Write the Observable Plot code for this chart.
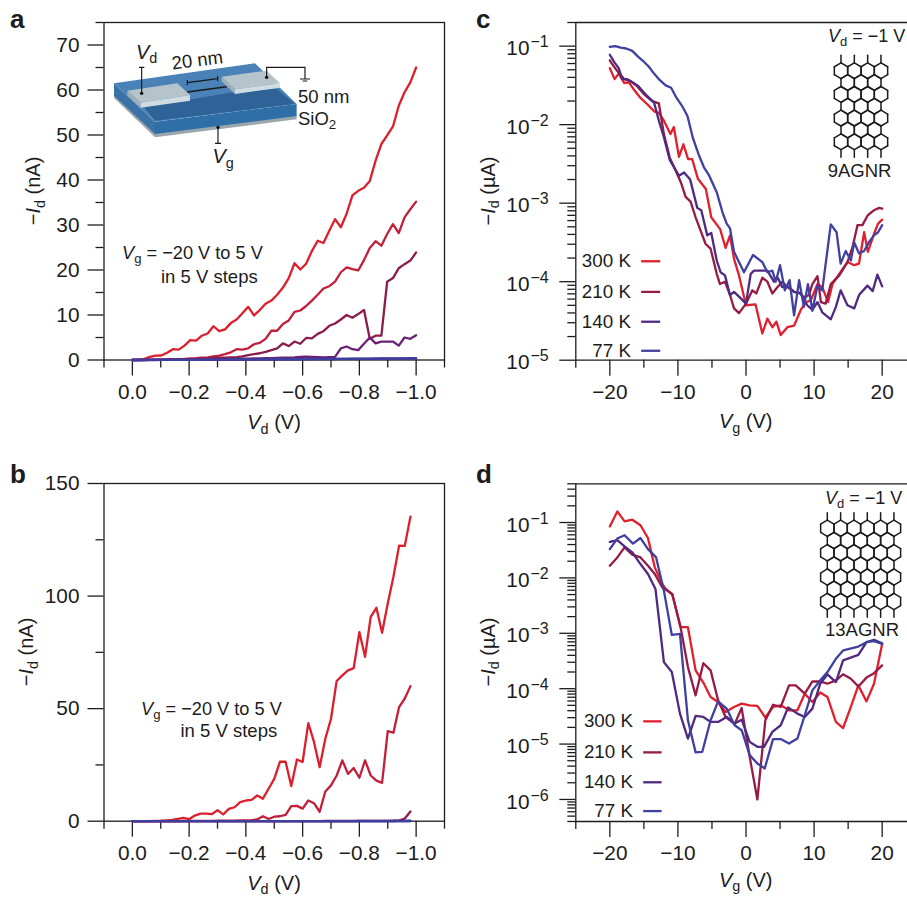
<!DOCTYPE html>
<html><head><meta charset="utf-8">
<script src="https://cdn.jsdelivr.net/npm/d3@7"></script>
<script src="https://cdn.jsdelivr.net/npm/@observablehq/plot@0.6"></script>
<style>
html,body{margin:0;padding:0;background:#fff;overflow:hidden}
#page{position:relative;width:907px;height:897px;overflow:hidden}
#page svg{position:absolute;overflow:visible;background:transparent}
</style></head><body><div id="page"></div>
<script>
// ---- panel a: -Id (nA) vs Vd, 50 samples per sweep
const a1=[0,.05,.2,.7,.95,1,1.6,2.4,2.3,3.2,4.4,4.3,5.4,5.9,7.5,6.4,6.8,8.2,9,10.4,11.8,9.9,11.1,12.5,13.2,14.5,16.1,18.2,21.5,20.1,21.4,24.2,26.5,26,28.7,31.3,29.5,32.5,36.6,37.6,38.3,39.8,44.3,48,49.9,51.9,56.5,59.5,61.7,65];
const a2=[0,.02,.05,.08,.1,.12,.15,.18,.2,.25,.35,.4,.5,.6,.8,.95,1.3,1.7,2.4,2.3,2.6,3.5,3.8,4.7,6.5,6.5,8,8.8,10.7,11,12,13.2,14.5,15.9,16.4,17.4,19.5,20.6,20.2,19.9,22.2,24.9,26.4,25.4,28,30.2,28.2,31.7,33.5,35.2];
const a3=[0,0,0,.02,.03,.05,.08,.1,.12,.15,.2,.22,.28,.35,.45,.5,.55,.6,.65,.8,1.1,1.3,1.5,1.8,2.2,2.6,3.7,3.1,4.1,3.6,4.9,4.8,5.8,6.4,7.6,8.1,9,10,9.4,10.2,11.1,4.7,5.4,5.4,17.4,18.2,20.4,21.3,22.1,23.9];
const a4=[0,0,0,0,0,.02,.03,.05,.05,.08,.1,.1,.12,.15,.18,.2,.2,.25,.25,.3,.3,.35,.35,.4,.4,.45,.5,.55,.6,.7,.75,.7,.65,.6,.65,.7,2.6,3,2.4,2.2,3.6,5,3.7,4.1,4.1,4.1,3.2,5,4.7,5.5];
const a5=[0,0,0,.01,.01,.02,.02,.03,.03,.04,.05,.05,.06,.07,.07,.08,.09,.09,.1,.11,.11,.12,.13,.13,.14,.15,.15,.16,.17,.18,.18,.19,.2,.21,.21,.22,.23,.24,.24,.25,.26,.27,.28,.28,.29,.3,.31,.32,.33,.35];
const a6=[0,0,.01,.01,.02,.02,.03,.03,.04,.05,.05,.06,.07,.08,.08,.09,.1,.11,.11,.12,.13,.14,.15,.15,.16,.17,.18,.19,.2,.2,.21,.22,.23,.24,.25,.25,.26,.27,.28,.29,.3,.31,.32,.33,.34,.35,.36,.38,.39,.41];
// ---- panel b
const b1=[0,.02,.03,.05,.1,.2,.4,.6,1,1.5,.9,2.5,3.4,3.4,3.1,4.9,3,5.5,6.2,8.5,9.2,9.5,11.4,10,14.4,18.8,26.4,26.4,15.6,27.4,26.3,43.6,35.2,24,36.6,45.5,62.3,64.8,67,68,84,73,90.8,94.8,83.7,96.7,108.6,122.4,122.3,135.3];
const b2=[0,0,0,.01,.02,.03,.04,.05,.06,.08,.1,.12,.14,.15,.17,.2,.22,.25,.3,.35,.4,.5,.8,2.2,1,2,2.2,2.8,6.7,6.8,5.6,9.2,8,4.2,13.2,15.9,20.3,27,21,23.6,19.3,27,20.3,18,17,40,39.3,50.7,54.5,60];
const b3=[0,0,0,0,0,0,0,0,0,0,.01,.01,.01,.01,.02,.02,.02,.02,.02,.03,.03,.03,.03,.04,.04,.04,.05,.05,.05,.06,.06,.06,.07,.07,.08,.08,.09,.09,.1,.1,.11,.12,.13,.14,.15,.17,.2,.3,1.2,4.3];
const b4=[0,0,0,0,0,0,0,0,0,0,0,0,.01,.01,.01,.01,.01,.02,.02,.02,.02,.02,.03,.03,.03,.03,.04,.04,.04,.04,.05,.05,.05,.05,.06,.06,.06,.07,.07,.07,.08,.08,.08,.09,.09,.1,.1,.11,.12,.13];
const b5=[0,0,0,0,0,0,0,0,0,0,0,0,0,0,0,.01,.01,.01,.01,.01,.01,.02,.02,.02,.02,.02,.02,.03,.03,.03,.03,.03,.04,.04,.04,.04,.05,.05,.05,.05,.06,.06,.06,.07,.07,.07,.08,.08,.09,.09];
const b6=[0,0,0,0,0,0,0,0,0,0,0,0,0,0,0,0,0,0,.01,.01,.01,.01,.01,.01,.01,.02,.02,.02,.02,.02,.02,.03,.03,.03,.03,.03,.04,.04,.04,.04,.05,.05,.05,.05,.06,.06,.06,.07,.07,.08];
const sweepColors=["#dc1f2d","#c21f3b","#8c1c4d","#6a2176","#4b2a8c","#3b3f9f"];
// ---- panel c: x in V, log10(-Id / uA)
const c300X=[-20,-19.3,-18.7,-17.9,-17.2,-16.5,-15.5,-14.5,-13.5,-12.8,-12.06,-11.1,-10.6,-9.85,-9.2,-8.5,-7.9,-7.06,-5.9,-5.1,-3.8,-3,-2.35,-1.76,-1.03,0,1.4,2.4,3.14,3.87,4.46,5.1,6.08,7.06,8.04,8.8,9.5,10.5,11.2,12.06,12.7,13.7,14.9,15.9,16.6,17.35,17.9,18.8,19.4,20];
const c300L=[-1.28,-1.42,-1.35,-1.47,-1.46,-1.55,-1.66,-1.74,-1.83,-1.85,-1.95,-2.12,-2.03,-2.41,-2.25,-2.44,-2.44,-2.69,-2.82,-3.18,-3.33,-3.57,-3.41,-3.71,-3.92,-4.3,-4.29,-4.66,-4.47,-4.58,-4.51,-4.68,-4.58,-4.56,-4.36,-4.26,-4.24,-4.03,-4.07,-4.26,-4.03,-3.9,-3.75,-3.79,-3.77,-3.37,-3.62,-3.39,-3.26,-3.21];
const c210X=[-20,-19.4,-18.7,-17.9,-17.06,-16,-15,-13.8,-12.8,-12.06,-11.2,-10.3,-9.5,-8.87,-8.14,-7.4,-6.67,-5.93,-5.2,-4.3,-3.82,-3.09,-2.35,-1.76,-1.03,0,.93,1.52,2.4,3.14,3.87,4.6,5.34,6.08,7.06,7.8,8.53,9.26,9.75,10.5,11,11.7,12.45,13.7,14.9,15.64,16.37,17.1,17.84,18.8,19.56,20];
const c210L=[-1.18,-1.26,-1.34,-1.42,-1.44,-1.51,-1.61,-1.7,-1.73,-2.12,-2.42,-2.59,-2.75,-2.92,-2.98,-3.18,-3.35,-3.52,-3.58,-3.9,-4.03,-4,-4.17,-4.34,-4.4,-4.28,-4.11,-4.15,-3.95,-4,-4.15,-4.07,-4,-4.07,-4.13,-4.14,-4.2,-4.17,-4.03,-3.93,-4.26,-4.28,-4.03,-3.92,-3.75,-3.56,-3.28,-3.28,-3.16,-3.09,-3.06,-3.07];
const c140X=[-20,-19.3,-18.7,-18.2,-17.5,-16.5,-15.8,-14.8,-13.5,-12.8,-12.06,-11.2,-9.85,-9.1,-8.2,-7.16,-6.57,-5.69,-5.1,-4.3,-3.73,-3.09,-2.35,-1.76,-1.03,0,.69,1.18,2.16,3.14,4.1,4.6,5.34,6.2,7.06,8,9,9.75,10.5,11.2,12.45,13.2,13.9,14.9,15.9,16.6,17.84,18.6,19.3,20];
const c140L=[-1.11,-1.21,-1.28,-1.42,-1.42,-1.47,-1.51,-1.61,-1.72,-1.95,-2.16,-2.45,-2.65,-2.61,-2.7,-3.06,-3.09,-3.41,-3.38,-3.73,-3.88,-3.92,-4.17,-4.13,-4.19,-4.28,-3.9,-3.86,-3.86,-3.86,-4,-3.94,-4.07,-4.06,-4.13,-4.15,-4.3,-4.36,-4.26,-4.39,-4.48,-4.32,-4.11,-4.3,-4.34,-4.17,-4.05,-4.12,-3.91,-4.06];
const c77X=[-20,-19.2,-18.4,-17.6,-16.7,-15.9,-15.1,-14.3,-13.5,-12.7,-11.8,-11,-10.2,-9.4,-8.6,-7.8,-7,-6.2,-5.4,-4.3,-3.48,-2.84,-2.35,-1.76,-1.03,-.3,1.03,2.4,3.14,3.87,4.36,5,5.7,6.4,7.06,7.8,8.5,9.1,9.75,10.5,11.2,12.45,13.3,13.9,14.65,15.4,15.9,16.6,17.35,18.1,18.8,19.4,20];
const c77L=[-1.01,-1,-1.02,-1.03,-1.06,-1.13,-1.19,-1.26,-1.35,-1.43,-1.5,-1.53,-1.66,-1.76,-1.89,-2.17,-2.37,-2.54,-2.65,-2.86,-3.11,-3.26,-3.32,-3.62,-3.75,-3.88,-3.66,-3.75,-3.88,-3.86,-4,-3.79,-4.11,-3.98,-4.43,-3.98,-4.32,-4.03,-4.37,-4.05,-4.11,-3.27,-3.37,-3.77,-3.61,-3.73,-3.5,-3.64,-3.61,-3.49,-3.41,-3.37,-3.28];
// ---- panel d
const d300X=[-20,-18.9,-17.84,-16.7,-15.5,-14.4,-13.4,-12.3,-11.8,-10.83,-9.6,-8.53,-7.4,-6.18,-5.2,-4.1,-3,-1.76,-.64,.54,1.67,2.84,3.97,5.1,6.32,7.55,8.63,9.75,10.9,11.96,13.2,14.26,15.4,16.5,17.7,18.8,20];
const d300L=[-1.07,-.8,-.98,-.95,-1.05,-1.28,-1.81,-2.11,-2.2,-2.3,-2.89,-2.89,-3.67,-3.91,-4.15,-4.24,-4.42,-4.33,-4.27,-4.3,-4.31,-4.52,-4.33,-4.3,-4.39,-4.39,-4.09,-4.24,-4.07,-4.15,-4.6,-4.71,-4.33,-3.94,-4.23,-3.91,-3.19];
const d210X=[-20,-18.9,-17.84,-16.7,-15.5,-14.4,-13.4,-12.3,-11.8,-10.83,-9.6,-8.53,-7.4,-6.27,-5.2,-4.1,-3,-1.67,-.64,.54,1.67,2.84,3.97,5.1,6.32,7.3,8.63,9.75,10.9,11.96,13.2,14.26,15.4,16.5,17.7,18.8,20];
const d210L=[-1.78,-1.63,-1.45,-1.58,-1.63,-1.78,-1.93,-2.17,-2.21,-2.29,-2.9,-3.61,-4.12,-3.54,-3.67,-4.21,-4.51,-4.64,-4.35,-5.23,-6,-4.57,-4.29,-4.33,-3.94,-3.94,-4.09,-3.87,-3.87,-3.91,-3.85,-3.74,-3.82,-3.96,-3.8,-3.72,-3.58];
const d140X=[-20,-18.9,-17.84,-16.7,-15.5,-14.4,-13.3,-12.06,-10.9,-9.7,-8.53,-7.4,-6.27,-5.2,-4.1,-2.84,-1.67,-.64,.54,1.67,2.65,3.87,5.1,6.18,7.55,8.63,9.75,10.9,11.96,13.2,14.26,16.5,17.7,18.8,20];
const d140L=[-1.35,-1.32,-1.43,-1.54,-1.75,-1.93,-2.2,-3.52,-3.7,-4.45,-4.9,-4.49,-4.51,-4.6,-4.6,-4.51,-4.63,-4.56,-4.96,-5.05,-5.05,-4.78,-4.66,-4.34,-4.45,-4.51,-4.36,-3.91,-3.74,-3.88,-3.49,-3.39,-3.16,-3.12,-3.18];
const d77X=[-20,-18.9,-17.84,-16.6,-15.5,-14.4,-13.2,-12.06,-10.9,-9.7,-8.53,-7.4,-6.42,-5.2,-4.1,-2.84,-1.67,-.64,.54,1.67,2.75,3.97,5.1,6.32,7.55,8.63,9.75,10.9,11.96,13.2,14.26,16.5,17.7,18.8,20];
const d77L=[-1.48,-1.29,-1.23,-1.38,-1.28,-1.48,-1.63,-2.23,-3.03,-3.01,-4.57,-5.15,-5.14,-4.57,-4.23,-4.36,-4.66,-4.75,-5.2,-5.35,-5.44,-4.91,-4.91,-4.99,-4.9,-4.48,-4.03,-3.85,-3.7,-3.46,-3.31,-3.24,-3.16,-3.14,-3.19];
const tempLabels=["300 K","210 K","140 K","77 K"];
const tempColors=["#e0202d","#961b45","#4f2a80","#3f40a0"];

const vdMajor=[0,-.2,-.4,-.6,-.8,-1], vdMinor=[.1,-.1,-.3,-.5,-.7,-.9,-1.1];
const vgMajor=[-20,-10,0,10,20], vgMinor=[-25,-15,-5,5,15];

const FONT="'Liberation Sans',Arial,Helvetica,sans-serif", INK="#1c1c1c";
const NS="http://www.w3.org/2000/svg";

function svgEl(tag,attrs){const e=document.createElementNS(NS,tag);for(const k in attrs)e.setAttribute(k,attrs[k]);return e;}
// text with italic / subscript runs; parts: "plain", {i:"V"}, {sub:"d"}
function rich(parts,{x,y,size=19,anchor="start",rotate=0,weight}){
  const t=svgEl("text",{"text-anchor":anchor,"font-size":size,fill:INK,transform:`translate(${x},${y}) rotate(${rotate})`});
  if(weight)t.setAttribute("font-weight",weight);
  let down=false;
  for(const p of parts){
    const s=svgEl("tspan",{});
    let dy=0;
    if(typeof p==="string"){s.textContent=p;if(down){dy=-size*.24;down=false;}}
    else if(p.i){s.textContent=p.i;s.setAttribute("font-style","italic");if(down){dy=-size*.24;down=false;}}
    else if(p.sub){s.textContent=p.sub;s.setAttribute("font-size",size*.72);dy=size*.24;down=true;}
    if(dy)s.setAttribute("dy",dy);
    t.appendChild(s);
  }
  return t;
}
function hexLattice(g,cx,cy,stepX,stepY,cols,rows){
  const w=stepX/2,s=stepY*2/3,h=s/2;
  const segs=[];
  const add=(x1,y1,x2,y2)=>segs.push([x1,y1,x2,y2]);
  for(let r=0;r<rows;r++){
    const n=r%2?cols-1:cols, off=r%2?w:0;
    for(let c=0;c<n;c++){
      const X=cx+off+c*stepX,Y=cy+r*stepY;
      const v=[[X,Y-s],[X+w,Y-h],[X+w,Y+h],[X,Y+s],[X-w,Y+h],[X-w,Y-h]];
      v.forEach((p,k)=>{const q=v[(k+1)%6];add(p[0],p[1],q[0],q[1]);});
      if(r===0)add(X,Y-s,X,Y-s-7.5);
      if(r===rows-1)add(X,Y+s,X,Y+s+7.5);
    }
  }
  for(const [a,b,c,d] of segs)g.appendChild(svgEl("line",{x1:a,y1:b,x2:c,y2:d,stroke:"#1c1c1c","stroke-width":1.5,"stroke-linecap":"round"}));
}
function device(g){
  const tr=svgEl("g",{transform:"translate(100,30) scale(0.3333)"});g.appendChild(tr);
  const poly=(pts,fill)=>tr.appendChild(svgEl("polygon",{points:pts,fill}));
  const path=(d,w=4.5)=>tr.appendChild(svgEl("path",{d,fill:"none",stroke:"#1a1a1a","stroke-width":w}));
  poly("42,190 165,308 590,256 590,268 165,322 42,204","#9aa7ad");
  poly("42,160 165,275 165,312 42,197","#3a72a6");
  poly("165,275 590,222 590,258 165,312","#2f6fa8");
  poly("42,160 465,100 590,222 165,275","#4a82b8");
  poly("130,228 262,210 380,190 530,176 585,222 165,272","#2f6296");
  poly("82,182 232,160 270,195 122,218","#b4c4ca");
  poly("82,182 122,218 122,233 82,197","#9fb1b8");
  poly("122,218 270,195 270,212 122,233","#cfdde2");
  poly("365,140 500,122 540,160 405,178","#b4c4ca");
  poly("365,140 405,178 405,192 365,154","#9fb1b8");
  poly("405,178 540,160 540,173 405,192","#cfdde2");
  path("M262,186L380,170");
  path("M262,158L353,146M262,150V166M353,138V154",3.5);
  path("M125,190V112M117,112H133",3.5);
  path("M500,142V112H615V147M600,147H630M608,153H622",3.5);
  path("M354,292V340M345,340H363",3.5);
  for(const [cx,cy] of [[125,190],[500,142],[354,292]])tr.appendChild(svgEl("circle",{cx,cy,r:5,fill:"#111"}));
}

const V={i:"V"},I={i:"I"};
const panels={
 a:{left:0,top:0,w:454,h:450,m:[22,10,90.5,103.5],
    overlay(g){
      device(g);
      g.append(rich(["a"],{x:10,y:28,size:26,weight:"bold"}));
      g.append(rich([V,{sub:"d"}],{x:136,y:58.5,size:20}));
      g.append(rich(["20 nm"],{x:172.5,y:69.5,size:18.5,rotate:-7}));
      g.append(rich([V,{sub:"g"}],{x:212.5,y:163,size:20}));
      g.append(rich(["50 nm"],{x:298,y:103,size:18.5}));
      g.append(rich(["SiO",{sub:"2"}],{x:298,y:125,size:18.5}));
      g.append(rich([V,{sub:"g"}," = \u221220 V to 5 V"],{x:122,y:259,size:18.2}));
      g.append(rich(["in 5 V steps"],{x:161,y:282.5,size:18.5}));
      g.append(rich([V,{sub:"d"}," (V)"],{x:274,y:429,size:20,anchor:"middle"}));
      g.append(rich(["\u2212",I,{sub:"d"}," (nA)"],{x:40,y:191,size:20,anchor:"middle",rotate:-90}));
    }},
 b:{left:0,top:460,w:454,h:437,m:[23,10,76.3,103.5],
    overlay(g){
      g.append(rich(["b"],{x:10,y:482.5,size:26,weight:"bold"}));
      g.append(rich([V,{sub:"g"}," = \u221220 V to 5 V"],{x:141,y:715,size:18.2}));
      g.append(rich(["in 5 V steps"],{x:180.5,y:737,size:18.5}));
      g.append(rich([V,{sub:"d"}," (V)"],{x:274,y:889.5,size:20,anchor:"middle"}));
      g.append(rich(["\u2212",I,{sub:"d"}," (nA)"],{x:33,y:652,size:20,anchor:"middle",rotate:-90}));
    }},
 c:{left:460,top:0,w:447,h:450,m:[22,0,90.3,115.3],
    overlay(g){
      hexLattice(g,841,70.7,13.33,11.85,4,7);
      g.append(rich(["c"],{x:476,y:28,size:26,weight:"bold"}));
      g.append(rich([V,{sub:"d"}," = \u22121 V"],{x:828,y:41.5,size:18}));
      g.append(rich(["9AGNR"],{x:859.5,y:176.5,size:18.5,anchor:"middle"}));
      g.append(rich([V,{sub:"g"}," (V)"],{x:745.7,y:428,size:20,anchor:"middle"}));
      g.append(rich(["\u2212",I,{sub:"d"}," (\u00b5A)"],{x:494.5,y:191,size:20,anchor:"middle",rotate:-90}));
    }},
 d:{left:460,top:460,w:447,h:437,m:[23.3,0,76,115.3],
    overlay(g){
      hexLattice(g,827.3,528.3,13.33,12.2,6,7);
      g.append(rich(["d"],{x:476,y:483,size:26,weight:"bold"}));
      g.append(rich([V,{sub:"d"}," = \u22121 V"],{x:825,y:504,size:18}));
      g.append(rich(["13AGNR"],{x:862,y:635.5,size:18.5,anchor:"middle"}));
      g.append(rich([V,{sub:"g"}," (V)"],{x:745.7,y:886.5,size:20,anchor:"middle"}));
      g.append(rich(["\u2212",I,{sub:"d"}," (\u00b5A)"],{x:494.5,y:652,size:20,anchor:"middle",rotate:-90}));
    }}
};

const overlayMark=p=>()=>{
  const g=svgEl("g",{transform:`translate(${-p.left},${-p.top})`});
  p.overlay(g);
  return g;
};
const LW=2.3;
const series=(xs,ys,stroke)=>Plot.line(ys.map((y,i)=>({x:xs[i],y})),{x:"x",y:"y",stroke,strokeWidth:LW,strokeLinejoin:"round"});
const logs=l=>l.map(v=>Math.pow(10,v));

function draw(p,{xDomain,yDomain,yType,xMajor,xMinor,xFormat,yMajorAxis,yMinor,lines,extra=[]}){
  const [mt,mr,mb,ml]=p.m;
  const svg=Plot.plot({
    width:p.w,height:p.h,marginTop:mt,marginRight:mr,marginBottom:mb,marginLeft:ml,
    style:{fontFamily:FONT,color:INK,background:"transparent",overflow:"visible"},
    x:{domain:xDomain,axis:null},y:{type:yType,domain:yDomain,axis:null},
    marks:[
      Plot.axisX({ticks:xMinor,tickSize:8,fill:"none",label:null,strokeWidth:1.3}),
      Plot.axisX({ticks:xMajor,tickSize:16,tickPadding:8,tickFormat:xFormat,fontSize:20.8,label:null,strokeWidth:1.3}),
      Plot.axisY({ticks:yMinor,tickSize:8,fill:"none",label:null,strokeWidth:1.3}),
      ...yMajorAxis,
      ...extra,
      ...lines,
      overlayMark(p)
    ]
  });
  svg.style.left=p.left+"px";svg.style.top=p.top+"px";
  document.getElementById("page").append(svg);
}
const xs50a=d3.range(50).map(i=>-i/49), xs50b=d3.range(50).map(i=>-i*.02);
const frameBox=()=>Plot.frame({stroke:INK,strokeWidth:1.3});
const linAxis=t=>[Plot.axisY({ticks:t,tickSize:16,tickPadding:8.5,tickFormat:d=>String(d),fontSize:20.8,label:null,strokeWidth:1.3})];

draw(panels.a,{xDomain:[.1,-1.1],yDomain:[0,75],yType:"linear",xMajor:vdMajor,xMinor:vdMinor,xFormat:d3.format(".1f"),
  yMajorAxis:linAxis([0,10,20,30,40,50,60,70]),yMinor:[5,15,25,35,45,55,65,75],
  lines:[a1,a2,a3,a4,a5,a6].map((s,i)=>series(xs50a,s,sweepColors[i])),extra:[frameBox()]});
draw(panels.b,{xDomain:[.1,-1.1],yDomain:[0,150],yType:"linear",xMajor:vdMajor,xMinor:vdMinor,xFormat:d3.format(".1f"),
  yMajorAxis:linAxis([0,50,100,150]),yMinor:[25,75,125],
  lines:[b1,b2,b3,b4,b5,b6].map((s,i)=>series(xs50b,s,sweepColors[i])),extra:[frameBox()]});

function logPanel(p,{yDomain,decades,lines,legendY,legendX}){
  const minor=[];
  for(const e of d3.range(decades[0]-1,decades[decades.length-1]+1))for(let m=2;m<=9;m++){const v=m*Math.pow(10,e);if(v>=yDomain[0]&&v<=yDomain[1]*1.001)minor.push(v);}
  const xEdge=[-25,23.72];
  const axis=[
    Plot.axisY({ticks:decades.map(e=>Math.pow(10,e)),tickSize:16,fill:"none",label:null,strokeWidth:1.3}),
    Plot.text(decades,{y:e=>Math.pow(10,e),text:()=>"10",frameAnchor:"left",dx:-46.3,dy:2.5,textAnchor:"end",fontSize:20.8,fill:INK}),
    Plot.text(decades,{y:e=>Math.pow(10,e),text:e=>"\u2212"+(-e),frameAnchor:"left",dx:-45.3,dy:-4,textAnchor:"start",fontSize:16,fill:INK})
  ];
  const rows=tempLabels.map((t,i)=>({t,c:tempColors[i],y:Math.pow(10,legendY[i])}));
  draw(p,{xDomain:xEdge,yDomain,yType:"log",xMajor:vgMajor,xMinor:vgMinor,xFormat:d3.format("d"),yMajorAxis:axis,yMinor:minor,lines,
    extra:[
      Plot.ruleX([-25],{stroke:INK,strokeWidth:1.3}),
      Plot.ruleY(yDomain,{stroke:INK,strokeWidth:1.3}),
      Plot.text(rows,{x:()=>legendX[0],y:"y",text:"t",textAnchor:"end",fontSize:18.8,fill:INK}),
      Plot.link(rows,{x1:()=>legendX[1],x2:()=>legendX[2],y1:"y",y2:"y",stroke:"c",strokeWidth:LW})
    ]});
}
logPanel(panels.c,{yDomain:[1e-5,.2],decades:[-5,-4,-3,-2,-1],legendY:[-3.74,-4.13,-4.51,-4.88],legendX:[-16.9,-15.4,-12.6],
  lines:[[c300X,c300L],[c210X,c210L],[c140X,c140L],[c77X,c77L]].map(([x,l],i)=>series(x,logs(l),tempColors[i]))});
logPanel(panels.d,{yDomain:[4e-7,.5],decades:[-6,-5,-4,-3,-2,-1],legendY:[-4.59,-5.15,-5.69,-6.21],legendX:[-16.6,-15.1,-12.4],
  lines:[[d300X,d300L],[d210X,d210L],[d140X,d140L],[d77X,d77L]].map(([x,l],i)=>series(x,logs(l),tempColors[i]))});
</script></body></html>
